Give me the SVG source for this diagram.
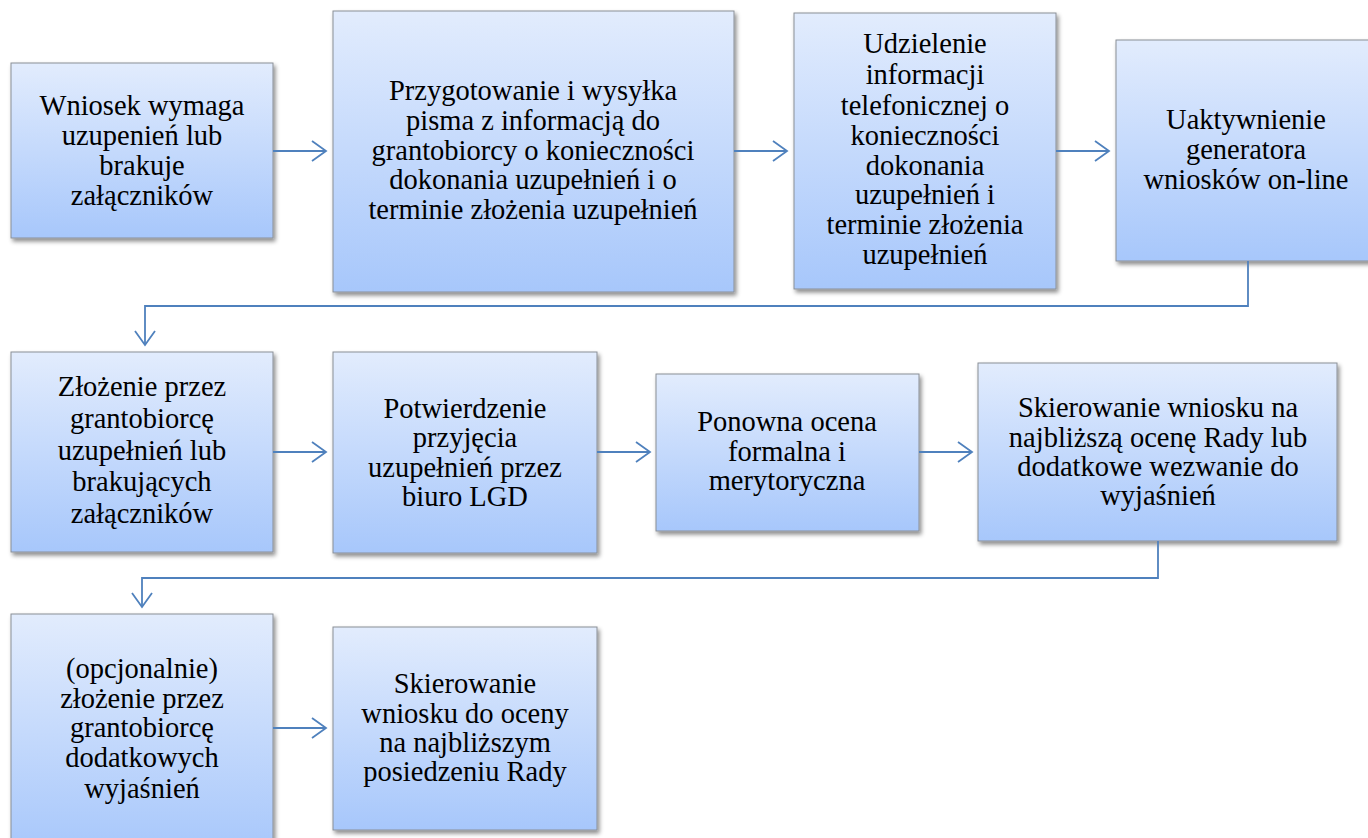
<svg xmlns="http://www.w3.org/2000/svg" width="1368" height="838" viewBox="0 0 1368 838">
<defs>
<linearGradient id="g" x1="0" y1="0" x2="0" y2="1">
<stop offset="0" stop-color="#e2ecfd"/>
<stop offset="1" stop-color="#a7c7fb"/>
</linearGradient>
<filter id="sh" x="-10%" y="-10%" width="130%" height="130%">
<feDropShadow dx="2" dy="3" stdDeviation="2" flood-color="#000" flood-opacity="0.45"/>
</filter>
<marker id="ah" markerUnits="userSpaceOnUse" markerWidth="18" markerHeight="24" refX="16" refY="12" orient="auto">
<path d="M2,2 L16,12 L2,22" fill="none" stroke="#4f81bd" stroke-width="1.8"/>
</marker>
</defs>
<style>
.box{fill:url(#g);stroke:#8a8f96;stroke-width:1;filter:url(#sh)}
.t{font-family:"Liberation Serif","Times New Roman",serif;font-size:28.5px;fill:#000;text-anchor:middle}
.c{fill:none;stroke:#4f81bd;stroke-width:1.8}
</style>
<rect width="1368" height="838" fill="#fff"/>
<g id="n1"><rect class="box" x="11" y="63" width="262" height="175"/>
<text class="t"><tspan x="142" y="115">Wniosek wymaga</tspan><tspan x="142" y="145">uzupenień lub</tspan><tspan x="142" y="175">brakuje</tspan><tspan x="142" y="205">załączników</tspan></text></g>
<g id="n2"><rect class="box" x="333" y="11" width="401" height="281"/>
<text class="t"><tspan x="533" y="100">Przygotowanie i wysyłka</tspan><tspan x="533" y="130">pisma z informacją do</tspan><tspan x="533" y="160">grantobiorcy o konieczności</tspan><tspan x="533" y="189">dokonania uzupełnień i o</tspan><tspan x="533" y="219">terminie złożenia uzupełnień</tspan></text></g>
<g id="n3"><rect class="box" x="794" y="13" width="262" height="276"/>
<text class="t"><tspan x="925" y="53">Udzielenie</tspan><tspan x="925" y="84">informacji</tspan><tspan x="925" y="115">telefonicznej o</tspan><tspan x="925" y="145">konieczności</tspan><tspan x="925" y="175">dokonania</tspan><tspan x="925" y="204">uzupełnień i</tspan><tspan x="925" y="234">terminie złożenia</tspan><tspan x="925" y="264">uzupełnień</tspan></text></g>
<g id="n4"><rect class="box" x="1116" y="40" width="270" height="221"/>
<text class="t"><tspan x="1246" y="129">Uaktywnienie</tspan><tspan x="1246" y="159">generatora</tspan><tspan x="1246" y="189">wniosków on-line</tspan></text></g>
<g id="n5"><rect class="box" x="11" y="352" width="262" height="200"/>
<text class="t"><tspan x="142" y="396">Złożenie przez</tspan><tspan x="142" y="428">grantobiorcę</tspan><tspan x="142" y="460">uzupełnień lub</tspan><tspan x="142" y="491">brakujących</tspan><tspan x="142" y="523">załączników</tspan></text></g>
<g id="n6"><rect class="box" x="333" y="352" width="264" height="201"/>
<text class="t"><tspan x="465" y="418">Potwierdzenie</tspan><tspan x="465" y="447">przyjęcia</tspan><tspan x="465" y="477">uzupełnień przez</tspan><tspan x="465" y="506">biuro LGD</tspan></text></g>
<g id="n7"><rect class="box" x="656" y="374" width="263" height="157"/>
<text class="t"><tspan x="787" y="431">Ponowna ocena</tspan><tspan x="787" y="461">formalna i</tspan><tspan x="787" y="490">merytoryczna</tspan></text></g>
<g id="n8"><rect class="box" x="978" y="363" width="359" height="178"/>
<text class="t"><tspan x="1158" y="417">Skierowanie wniosku na</tspan><tspan x="1158" y="447">najbliższą ocenę Rady lub</tspan><tspan x="1158" y="476">dodatkowe wezwanie do</tspan><tspan x="1158" y="505">wyjaśnień</tspan></text></g>
<g id="n9"><rect class="box" x="11" y="614" width="262" height="240"/>
<text class="t"><tspan x="142" y="678">(opcjonalnie)</tspan><tspan x="142" y="708">złożenie przez</tspan><tspan x="142" y="737">grantobiorcę</tspan><tspan x="142" y="767">dodatkowych</tspan><tspan x="142" y="798">wyjaśnień</tspan></text></g>
<g id="n10"><rect class="box" x="333" y="627" width="264" height="203"/>
<text class="t"><tspan x="465" y="693">Skierowanie</tspan><tspan x="465" y="723">wniosku do oceny</tspan><tspan x="465" y="752">na najbliższym</tspan><tspan x="465" y="781">posiedzeniu Rady</tspan></text></g>
<g id="connectors">
<line class="c" x1="273" y1="151" x2="326" y2="151" marker-end="url(#ah)"/>
<line class="c" x1="734" y1="151" x2="787" y2="151" marker-end="url(#ah)"/>
<line class="c" x1="1056" y1="151" x2="1109" y2="151" marker-end="url(#ah)"/>
<polyline class="c" points="1248,261 1248,306 145,306 145,345" marker-end="url(#ah)"/>
<line class="c" x1="273" y1="452" x2="326" y2="452" marker-end="url(#ah)"/>
<line class="c" x1="597" y1="452" x2="650" y2="452" marker-end="url(#ah)"/>
<line class="c" x1="919" y1="452" x2="972" y2="452" marker-end="url(#ah)"/>
<polyline class="c" points="1158,541 1158,578 142,578 142,607" marker-end="url(#ah)"/>
<line class="c" x1="273" y1="728" x2="326" y2="728" marker-end="url(#ah)"/>
</g>
</svg>
